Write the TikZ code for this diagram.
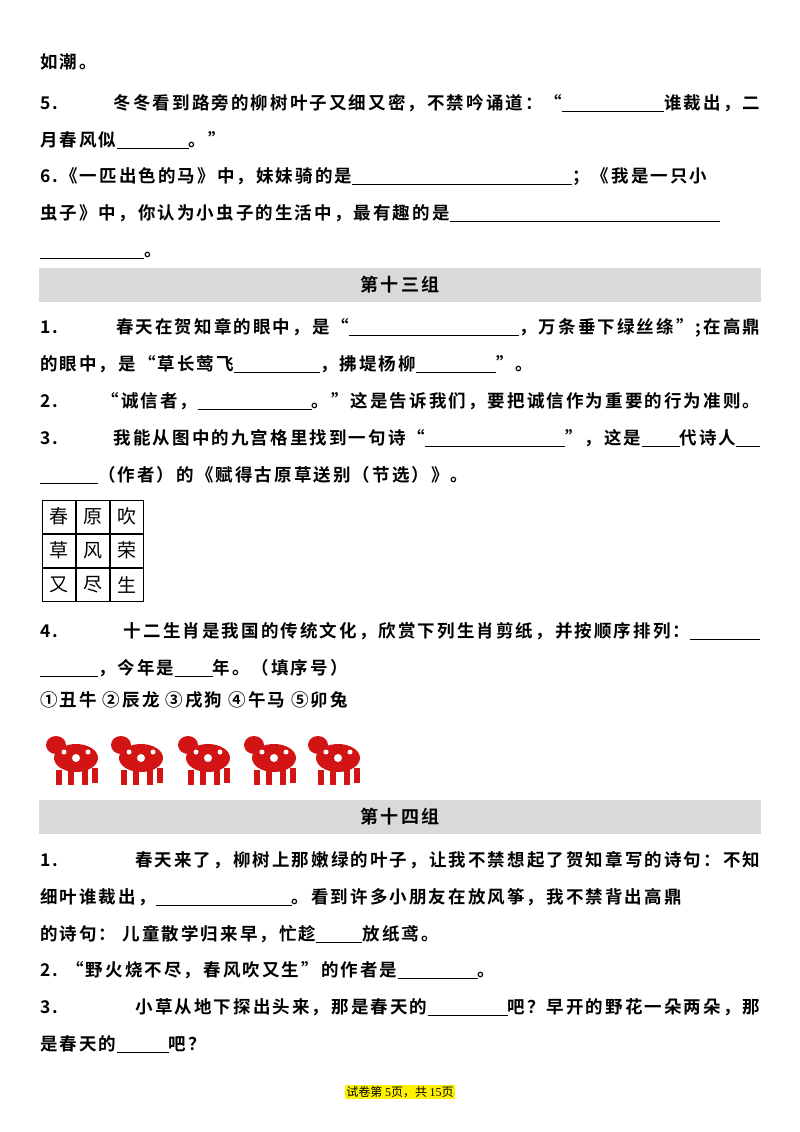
\documentclass[tikz,border=0pt]{standalone}
\usepackage{fontspec}
\setmainfont{Noto Sans CJK SC}[BoldFont=* Bold,LetterSpace=12]
\newfontfamily\footfont{Liberation Serif}
\newfontfamily\footcjk{Noto Sans CJK SC}
\XeTeXlinebreaklocale "zh"
\XeTeXlinebreakskip=0pt plus 4pt
\newcommand{\bk}[1]{\rule[-3pt]{#1pt}{0.7pt}}
\newcommand{\full}[1]{\makebox[720pt][s]{#1}}
\definecolor{bar}{RGB}{217,217,217}
\definecolor{cut}{RGB}{210,20,20}
\tikzset{ln/.style={anchor=base west,inner sep=0pt,font=\fontsize{17.5}{17.5}\selectfont\bfseries},
 hdr/.style={fill=bar,minimum width=722pt,minimum height=34pt,inner sep=0pt,font=\fontsize{18}{18}\selectfont\bfseries},
 cell/.style={draw,minimum size=33pt,inner sep=0pt,font=\fontsize{19}{19}\selectfont}}
\begin{document}
\begin{tikzpicture}[x=1pt,y=-1pt]
\useasboundingbox (0,0) rectangle (800,1132);
\fill[white] (0,0) rectangle (800,1132);
\node[ln] (l0) at (40,68) {如潮。};
\node[ln] (l1) at (40,109) {\full{5. 冬冬看到路旁的柳树叶子又细又密，不禁吟诵道：“\bk{102}谁裁出，二}};
\node[ln] (l2) at (40,146) {月春风似\bk{72}。”};
\node[ln] (l3) at (40,182) {\full{6.《一匹出色的马》中，妹妹骑的是\bk{220}；《我是一只小}};
\node[ln] (l4) at (40,219) {\full{虫子》中，你认为小虫子的生活中，最有趣的是\bk{270}}};
\node[ln] (l5) at (40,256) {\bk{104}。};
\node[hdr] (h13) at (400,285) {第十三组};
\node[ln] (a1) at (40,333) {\full{1. 春天在贺知章的眼中，是“\bk{170}，万条垂下绿丝绦”;在高鼎}};
\node[ln] (a2) at (40,370) {的眼中，是“草长莺飞\bk{86}，拂堤杨柳\bk{80}”。};
\node[ln] (a3) at (40,407) {\full{2. “诚信者，\bk{114}。”这是告诉我们，要把诚信作为重要的行为准则。}};
\node[ln] (a4) at (40,444) {\full{3. 我能从图中的九宫格里找到一句诗“\bk{140}”，这是\bk{38}代诗人\bk{24}}};
\node[ln] (a5) at (40,481) {\bk{58}（作者）的《赋得古原草送别（节选）》。};
\foreach \t [count=\i from 0] in {春,原,吹,草,风,荣,又,尽,生}{
  \pgfmathtruncatemacro{\r}{\i/3}\pgfmathtruncatemacro{\c}{mod(\i,3)}
  \node[cell] (g\i) at (58.5+\c*34,516.5+\r*34) {\t};}
\node[ln] (b1) at (40,637) {\full{4. 十二生肖是我国的传统文化，欣赏下列生肖剪纸，并按顺序排列：\bk{70}}};
\node[ln] (b2) at (40,674) {\bk{58}，今年是\bk{38}年。（填序号）};
\node[ln] (b3) at (40,706) {①丑牛 ②辰龙 ③戌狗 ④午马 ⑤卯兔};
\foreach \x in {48,113,180,246,310}{
 \fill[cut] (\x+8,745) ellipse (10 and 9);
 \fill[cut] (\x+28,758) ellipse (22 and 14);
 \fill[cut] (\x+8,770) rectangle (\x+14,785);
 \fill[cut] (\x+20,770) rectangle (\x+26,785);
 \fill[cut] (\x+34,770) rectangle (\x+40,785);
 \fill[cut] (\x+44,768) rectangle (\x+50,783);
 \fill[white] (\x+28,758) circle (4);
 \fill[white] (\x+16,752) circle (2.5);
 \fill[white] (\x+40,752) circle (2.5);
}
\node[hdr] (h14) at (400,817) {第十四组};
\node[ln] (c1) at (40,866) {\full{1. 春天来了，柳树上那嫩绿的叶子，让我不禁想起了贺知章写的诗句：不知}};
\node[ln] (c2) at (40,903) {\full{细叶谁裁出，\bk{136}。看到许多小朋友在放风筝，我不禁背出高鼎}};
\node[ln] (c3) at (40,940) {的诗句： 儿童散学归来早，忙趁\bk{46}放纸鸢。};
\node[ln] (c4) at (40,976) {2. “野火烧不尽，春风吹又生”的作者是\bk{80}。};
\node[ln] (c5) at (40,1013) {\full{3. 小草从地下探出头来，那是春天的\bk{80}吧？早开的野花一朵两朵，那}};
\node[ln] (c6) at (40,1050) {是春天的\bk{52}吧？};
\node[fill=yellow,inner sep=1pt,font=\fontsize{12}{12}\selectfont\footcjk] (ft) at (400,1092) {试卷第 {\footfont 5}页，共 {\footfont 15}页};
\end{tikzpicture}
\end{document}
